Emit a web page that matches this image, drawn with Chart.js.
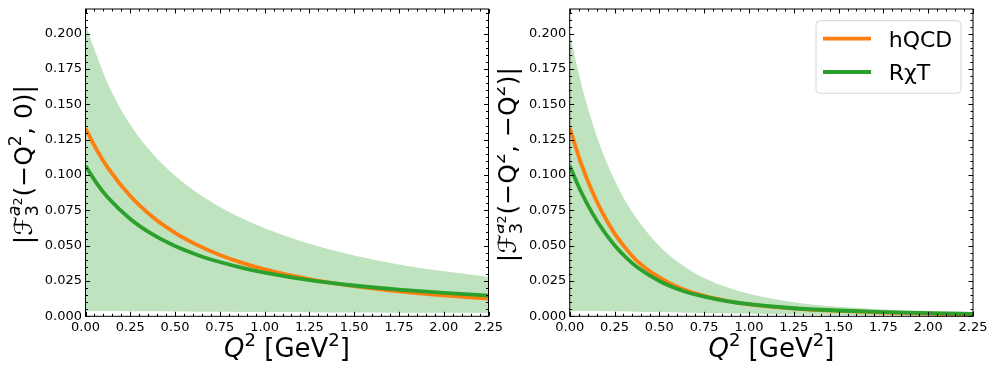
<!DOCTYPE html>
<html>
<head>
<meta charset="utf-8">
<script src="https://cdn.jsdelivr.net/npm/chart.js@4.4.1/dist/chart.umd.min.js"></script>
<style>
  body { margin: 0; background: #fff; }
  #wrap { position: relative; width: 997px; height: 374px; overflow: hidden; }
  canvas { position: absolute; top: 0; }
</style>
</head>
<body>
<div id="wrap">
  <canvas id="left" width="530" height="374" style="left:0"></canvas>
  <canvas id="right" width="500" height="374" style="left:497px"></canvas>
</div>
<script>
// left panel: |F(-Q^2, 0)|
const leftQ2 = [0, 0.0625, 0.125, 0.25, 0.375, 0.5, 0.625, 0.75, 0.875, 1.0, 1.25, 1.5, 1.75, 2.0, 2.25];
const leftHQCD = [0.133, 0.1178, 0.1051, 0.0851, 0.0703, 0.0591, 0.0504, 0.0434, 0.0378, 0.0333, 0.0263, 0.0213, 0.0176, 0.0148, 0.0126];
const leftRXT = [0.1065, 0.0941, 0.0841, 0.0689, 0.0579, 0.0497, 0.0434, 0.0384, 0.0343, 0.0309, 0.0256, 0.0218, 0.0189, 0.0166, 0.0147];
const leftBandHi = [0.2065, 0.1845, 0.1645, 0.1355, 0.115, 0.0995, 0.0873, 0.0774, 0.0692, 0.0624, 0.0514, 0.0431, 0.0367, 0.0318, 0.0279];
const leftBandLo = [0.0038, 0.0037, 0.0037, 0.0036, 0.0035, 0.0034, 0.0033, 0.0032, 0.0031, 0.0030, 0.0029, 0.0027, 0.0026, 0.0025, 0.0024];

// right panel: |F(-Q^2, -Q^2)|
const rightQ2 = [0, 0.0625, 0.125, 0.1875, 0.25, 0.3125, 0.375, 0.5, 0.625, 0.75, 0.875, 1.0, 1.25, 1.5, 1.75, 2.0, 2.25];
const rightHQCD = [0.1333, 0.1085, 0.0885, 0.0721, 0.0587, 0.0481, 0.0393, 0.0275, 0.0195, 0.0145, 0.011, 0.0084, 0.0055, 0.0038, 0.0027, 0.0019, 0.0014];
const rightRXT = [0.1065, 0.0883, 0.0732, 0.0607, 0.0503, 0.0418, 0.0349, 0.025, 0.0183, 0.0139, 0.0108, 0.0086, 0.0057, 0.0041, 0.003, 0.0023, 0.0017];
const rightBandHi = [0.2, 0.1654, 0.1375, 0.1148, 0.0964, 0.0813, 0.0689, 0.0498, 0.0365, 0.0271, 0.0207, 0.0159, 0.01, 0.0067, 0.0049, 0.0037, 0.003];
const rightBandLo = [0.0038, 0.0038, 0.0037, 0.0036, 0.0035, 0.0034, 0.0033, 0.003, 0.0027, 0.0024, 0.0021, 0.0018, 0.0013, 0.001, 0.0008, 0.0006, 0.0005];

const xTicks = [0, 2.25, 0.25];     // min, max, step
const yTicks = [0, 0.2175, 0.025];

const FONT = '"DejaVu Sans", sans-serif';

function datasets(q2, lo, hi, hqcd, rxt) {
    const pts = ys => q2.map((x, i) => ({ x: x, y: ys[i] }));
    const line = { pointRadius: 0, borderWidth: 3.8, fill: false, cubicInterpolationMode: "monotone" };
    return [
        Object.assign({ label: "R\u03c7T", data: pts(rxt), borderColor: "#2ca02c", order: 0 }, line),
        Object.assign({ label: "hQCD", data: pts(hqcd), borderColor: "#ff7f0e", order: 1 }, line),
        { label: "lo", data: pts(lo), pointRadius: 0, borderWidth: 0, borderColor: "transparent", fill: false, order: 3, cubicInterpolationMode: "monotone" },
        { label: "hi", data: pts(hi), pointRadius: 0, borderWidth: 0, borderColor: "transparent", backgroundColor: "rgba(44,160,44,0.3)", fill: "-1", order: 2, cubicInterpolationMode: "monotone" }
    ];
}

// text with sub/superscripts, laid out along a line
function layout(ctx, pieces) {
    const runs = [];
    let x = 0, mark = 0, far = 0;
    pieces.forEach(p => {
        if (p.mark) { mark = x; return; }
        if (p.back) { far = x; x = mark; return; }
        if (p.join) { x = Math.max(x, far) + 1; return; }
        const font = (p.it ? "italic " : "") + p.s + "px " + FONT;
        ctx.font = font;
        runs.push({ t: p.t, font: font, x: x, dy: p.dy || 0 });
        x += ctx.measureText(p.t).width;
    });
    return { runs: runs, width: x };
}

function drawRuns(ctx, lay, x0, y0) {
    lay.runs.forEach(r => {
        ctx.font = r.font;
        ctx.fillText(r.t, x0 + r.x, y0 - r.dy);
    });
}

function yTitle(tail) {
    const S = 25, s = S * 0.7;
    const p = [
        { t: "|", s: S }, { t: "\u2131", s: S }, { mark: true },
        { t: "a", s: s, it: true, dy: S * 0.45 }, { t: "2", s: S * 0.5, dy: S * 0.38 },
        { back: true }, { t: "3", s: s, dy: -S * 0.24 }, { join: true },
        { t: "(\u2212Q", s: S }, { t: "2", s: s, dy: S * 0.42 }, { t: ", ", s: S }
    ];
    if (tail === "0") {
        p.push({ t: "0", s: S });
    } else {
        p.push({ t: "\u2212Q", s: S }, { t: "2", s: s, dy: S * 0.42 });
    }
    p.push({ t: ")|", s: S });
    return p;
}

const xTitle = [
    { t: "Q", s: 26, it: true }, { t: "2", s: 18, dy: 11 },
    { t: " [GeV", s: 26 }, { t: "2", s: 18, dy: 11 }, { t: "]", s: 26 }
];

const mplStyle = {
    id: "mplStyle",
    afterDatasetsDraw(chart) {
        const ctx = chart.ctx, a = chart.chartArea;
        const xs = chart.scales.x, ys = chart.scales.y;
        ctx.save();
        ctx.strokeStyle = "#000";
        ctx.lineWidth = 1;
        ctx.beginPath();
        // minor + major ticks, pointing inwards on all four sides
        for (let i = 0; i <= 45; i++) {
            const px = Math.round(xs.getPixelForValue(i * 0.05)) + 0.5;
            const len = i % 5 === 0 ? 4.5 : 2.5;
            ctx.moveTo(px, a.bottom); ctx.lineTo(px, a.bottom - len);
            ctx.moveTo(px, a.top); ctx.lineTo(px, a.top + len);
        }
        for (let i = 0; i * 0.005 <= yTicks[1]; i++) {
            const py = Math.round(ys.getPixelForValue(i * 0.005)) + 0.5;
            const len = i % 5 === 0 ? 4.5 : 2.5;
            ctx.moveTo(a.left, py); ctx.lineTo(a.left + len, py);
            ctx.moveTo(a.right, py); ctx.lineTo(a.right - len, py);
        }
        ctx.stroke();
        ctx.strokeRect(a.left, a.top, a.right - a.left, a.bottom - a.top);
        ctx.restore();
    },
    afterDraw(chart, args, opts) {
        const ctx = chart.ctx, a = chart.chartArea;
        ctx.save();
        ctx.fillStyle = "#000";
        ctx.textBaseline = "alphabetic";
        // x title
        const lx = layout(ctx, xTitle);
        drawRuns(ctx, lx, (a.left + a.right) / 2 - lx.width / 2, 357);
        // y title (rotated)
        const ly = layout(ctx, yTitle(opts.tail));
        ctx.save();
        ctx.translate(a.left - 54, (a.top + a.bottom) / 2 + 2);
        ctx.rotate(-Math.PI / 2);
        drawRuns(ctx, ly, -ly.width / 2, 0);
        ctx.restore();
        // legend
        if (opts.legend) {
            const bw = 145, bh = 72.6;
            const bx = a.right - 12 - bw, by = a.top + 11.7;
            ctx.beginPath();
            ctx.roundRect(bx, by, bw, bh, 4);
            ctx.fillStyle = "rgba(255,255,255,0.8)";
            ctx.fill();
            ctx.strokeStyle = "#d6d6d6";
            ctx.lineWidth = 1;
            ctx.stroke();
            const items = [chart.data.datasets[1], chart.data.datasets[0]];
            items.forEach((d, i) => {
                const y = by + 18 + i * 33.3;
                ctx.strokeStyle = d.borderColor;
                ctx.lineWidth = 3.8;
                ctx.beginPath();
                ctx.moveTo(bx + 7, y); ctx.lineTo(bx + 55, y);
                ctx.stroke();
                ctx.fillStyle = "#000";
                ctx.font = "22px " + FONT;
                ctx.fillText(d.label, bx + 72.7, y + 8);
            });
        }
        ctx.restore();
    }
};

function makeChart(id, q2, lo, hi, hqcd, rxt, yWidth, padRight, tail, legend) {
    const tickFont = { family: FONT, size: 13 };
    return new Chart(document.getElementById(id), {
        type: "line",
        data: { datasets: datasets(q2, lo, hi, hqcd, rxt) },
        options: {
            responsive: false,
            animation: false,
            layout: { padding: { top: 9, right: padRight, bottom: 0, left: 0 } },
            plugins: {
                legend: { display: false },
                tooltip: { enabled: false },
                mplStyle: { tail: tail, legend: legend }
            },
            scales: {
                x: {
                    type: "linear", min: xTicks[0], max: xTicks[1],
                    grid: { display: false, drawTicks: false }, border: { display: false },
                    ticks: { stepSize: xTicks[2], autoSkip: false, maxRotation: 0, padding: 4, color: "#000", font: tickFont,
                        callback: v => v.toFixed(2) },
                    afterFit: s => { s.height = 374 - 316.3; s.paddingLeft = 0; s.paddingRight = 0; }
                },
                y: {
                    type: "linear", min: yTicks[0], max: yTicks[1],
                    grid: { display: false, drawTicks: false }, border: { display: false },
                    ticks: { stepSize: yTicks[2], includeBounds: false, autoSkip: false, padding: 3.5, color: "#000", font: tickFont,
                        callback: v => v.toFixed(3) },
                    afterFit: s => { s.width = yWidth; s.paddingTop = 0; s.paddingBottom = 0; }
                }
            }
        },
        plugins: [mplStyle]
    });
}

makeChart("left", leftQ2, leftBandLo, leftBandHi, leftHQCD, leftRXT, 85.5, 530 - 488.5, "0", false);
makeChart("right", rightQ2, rightBandLo, rightBandHi, rightHQCD, rightRXT, 72.7, 500 - 476, "Q", true);
</script>
</body>
</html>
